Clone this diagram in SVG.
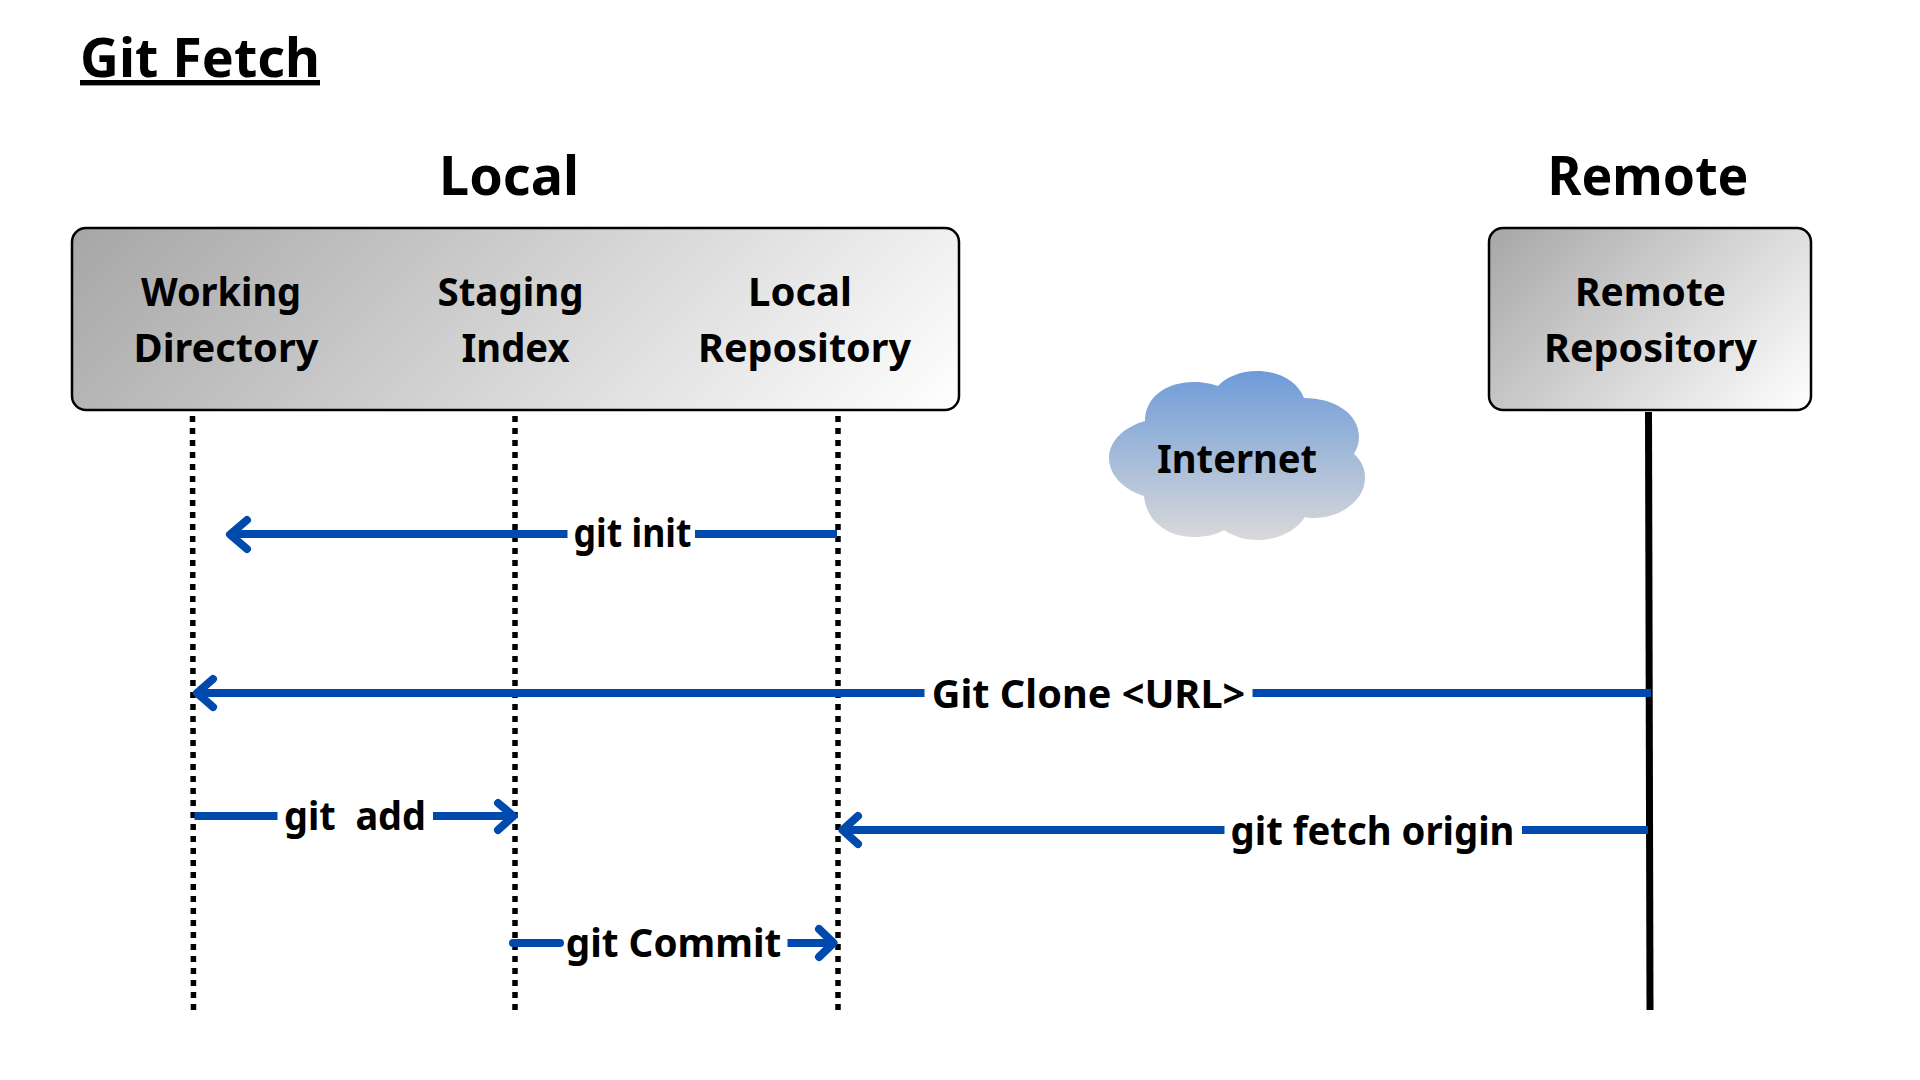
<svg xmlns="http://www.w3.org/2000/svg" width="1920" height="1080" viewBox="0 0 1920 1080">
<style>
text{font-family:"Noto Sans","Open Sans",sans-serif;font-weight:700;fill:#000;text-anchor:middle;font-size:40px}
.h{font-size:54px}
.box{stroke:#000;stroke-width:2.5}
.life{stroke:#000;stroke-width:5.500;stroke-dasharray:6 6;fill:none}
.arr{stroke:#004aad;stroke-width:8;fill:none;stroke-linecap:round;stroke-linejoin:round}
.seg{stroke-linecap:butt}
</style>
<defs>
<linearGradient id="g1" gradientUnits="userSpaceOnUse" x1="248" y1="52" x2="782" y2="586"><stop offset="0" stop-color="#a6a6a6"/><stop offset="1" stop-color="#ffffff"/></linearGradient>
<linearGradient id="g3" gradientUnits="userSpaceOnUse" x1="1524" y1="193" x2="1776" y2="445"><stop offset="0" stop-color="#a6a6a6"/><stop offset="1" stop-color="#ffffff"/></linearGradient>
<linearGradient id="g2" x1="0" y1="0" x2="0" y2="1"><stop offset="0" stop-color="#6d9bd8"/><stop offset="1" stop-color="#d9d9d9"/></linearGradient>
</defs>
<rect width="1920" height="1080" fill="#fff"/>
<text id="title" x="80" y="77" style="text-anchor:start;font-size:54px;text-decoration:underline;text-decoration-thickness:5px;text-underline-offset:5px" textLength="240" lengthAdjust="spacingAndGlyphs">Git Fetch</text>
<text class="h" x="509" y="195" textLength="140" lengthAdjust="spacingAndGlyphs">Local</text>
<text class="h" x="1648" y="195" textLength="201" lengthAdjust="spacingAndGlyphs">Remote</text>
<g id="local-box"><rect class="box" x="72" y="228" width="887" height="182" rx="14" fill="url(#g1)"/>
<text x="221" y="306" textLength="160" lengthAdjust="spacingAndGlyphs">Working</text><text x="226" y="362" textLength="185" lengthAdjust="spacingAndGlyphs">Directory</text><text x="510.500" y="306" textLength="146" lengthAdjust="spacingAndGlyphs">Staging</text><text x="515.500" y="362" textLength="108" lengthAdjust="spacingAndGlyphs">Index</text><text x="800" y="306" textLength="104" lengthAdjust="spacingAndGlyphs">Local</text><text x="804.500" y="362" textLength="213" lengthAdjust="spacingAndGlyphs">Repository</text></g>
<g id="remote-box"><rect class="box" x="1489" y="228" width="322" height="182" rx="14" fill="url(#g3)"/>
<text x="1650.500" y="306" textLength="151" lengthAdjust="spacingAndGlyphs">Remote</text><text x="1650.500" y="362" textLength="213" lengthAdjust="spacingAndGlyphs">Repository</text></g>
<g id="internet"><path d="M1145 421C1145 398 1165 382 1194 382C1203 382 1212 384 1218 386C1226 377 1241 371 1257 371C1280 371 1298 382 1304 398C1335 398 1359 414 1359 437C1359 443 1357 449 1354 454C1361 460 1365 468 1365 478C1365 500 1341 518 1314 518C1311 518 1308 518 1305 517C1296 531 1278 540 1257 540C1244 540 1233 536 1224 530C1215 535 1205 537 1194 537C1166 537 1146 520 1144 496C1124 490 1109 475 1109 458C1109 441 1124 427 1145 421Z" fill="url(#g2)"/>
<text x="1237" y="473" textLength="160" lengthAdjust="spacingAndGlyphs">Internet</text></g>
<g id="connectors">
<path class="life" d="M192.500 416L193.500 1010M515 416V1010M838 416V1010"/>
<path d="M1648.500 412L1650 1010" stroke="#000" stroke-width="7" fill="none"/>
<path class="arr seg" d="M837 534H695M567.500 534H232"/><path class="arr" d="M247 520L230 534.500L247 549"/>
<path class="arr seg" d="M1651 693H1252.500M924.500 693H199"/><path class="arr" d="M213 679L197 693L213 707"/>
<path class="arr seg" d="M194.500 816H277.500M433 816H510"/><path class="arr" d="M498 803L513.500 816L498 830"/>
<path class="arr seg" d="M1648 830H1522M1224.500 830H842"/><path class="arr" d="M858 816L842.500 830L858 844"/>
<path class="arr" d="M513 943H560"/><path class="arr seg" d="M787.500 943H833"/><path class="arr" d="M819 929L833.500 943L819 957"/>
</g>
<text x="632.500" y="547" textLength="118" lengthAdjust="spacingAndGlyphs">git init</text>
<text x="1088.500" y="708" textLength="313.500" lengthAdjust="spacingAndGlyphs">Git Clone &lt;URL&gt;</text>
<text x="355" y="830" xml:space="preserve" textLength="142" lengthAdjust="spacingAndGlyphs">git  add</text>
<text x="1372.500" y="845" textLength="284" lengthAdjust="spacingAndGlyphs">git fetch origin</text>
<text x="673.500" y="957" textLength="215.500" lengthAdjust="spacingAndGlyphs">git Commit</text>
</svg>
